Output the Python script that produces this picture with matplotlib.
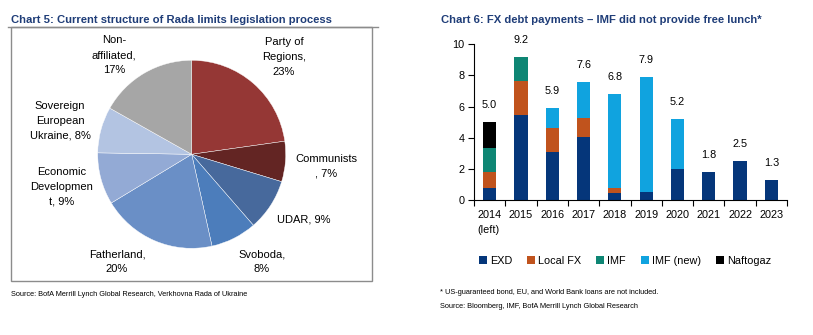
import matplotlib
matplotlib.use("Agg")
import matplotlib.pyplot as plt
from matplotlib.patches import Rectangle, Patch
from matplotlib.lines import Line2D
import numpy as np

plt.rcParams['font.family'] = ['Liberation Sans', 'DejaVu Sans']

# ---------- Data: Chart 5 (pie) ----------
party_labels = ["Party of\nRegions,\n{}%", "Communists\n, {}%", "UDAR, {}%", "Svoboda,\n{}%",
                "Fatherland,\n{}%", "Economic\nDevelopmen\nt, {}%", "Sovereign\nEuropean\nUkraine, {}%",
                "Non-\naffiliated,\n{}%"]
shares = [23, 7, 9, 8, 20, 9, 8, 17]
pie_colors = ["#953735", "#632523", "#47699c", "#4c7dbb", "#6a8fc6", "#93aad5", "#b3c4e2", "#a6a6a6"]

# ---------- Data: Chart 6 (stacked bars) ----------
years = ["2014\n(left)", "2015", "2016", "2017", "2018", "2019", "2020", "2021", "2022", "2023"]
exd = [0.75, 5.45, 3.1, 4.05, 0.48, 0.5, 2.0, 1.82, 2.52, 1.28]
local_fx = [1.03, 2.2, 1.55, 1.23, 0.27, 0.0, 0.0, 0.0, 0.0, 0.0]
imf = [1.56, 1.55, 0.0, 0.0, 0.0, 0.0, 0.0, 0.0, 0.0, 0.0]
imf_new = [0.0, 0.0, 1.25, 2.32, 6.05, 7.4, 3.2, 0.0, 0.0, 0.0]
naftogaz = [1.66, 0.0, 0.0, 0.0, 0.0, 0.0, 0.0, 0.0, 0.0, 0.0]
totals_label = ["5.0", "9.2", "5.9", "7.6", "6.8", "7.9", "5.2", "1.8", "2.5", "1.3"]

series_names = ["EXD", "Local FX", "IMF", "IMF (new)", "Naftogaz"]
series_colors = ["#05367a", "#c0531d", "#0e8674", "#10a3df", "#000000"]

W, H = 813, 335
fig = plt.figure(figsize=(W / 100, H / 100), dpi=100)

def fx(px):
    return px / W

def fy(py):
    return 1 - py / H

title_color = "#1f3d78"

# ---------- Left panel ----------
fig.text(fx(11), fy(20), "Chart 5: Current structure of Rada limits legislation process",
         fontsize=8.1, fontweight='bold', color=title_color, va='center', ha='left')
fig.add_artist(Line2D([fx(8), fx(378)], [fy(27), fy(27)], color="#8c8c8c", lw=1.0))
fig.add_artist(Rectangle((fx(11), fy(281)), fx(372) - fx(11), fy(27) - fy(281),
                         fill=False, edgecolor="#8c8c8c", lw=1.0, transform=fig.transFigure))
fig.text(fx(11), fy(294), "Source: BofA Merrill Lynch Global Research, Verkhovna Rada of Ukraine",
         fontsize=5.3, color="#000000", va='center', ha='left')

cx, cy, r = 191.7, 154.3, 94
axp = fig.add_axes([fx(cx - r), fy(cy + r), 2 * r / W, 2 * r / H])
wedges, _ = axp.pie(shares, colors=pie_colors, startangle=90, counterclock=False, radius=1,
                    wedgeprops=dict(linewidth=0.3, edgecolor="white"))
axp.set_xlim(-1, 1)
axp.set_ylim(-1, 1)
axp.set_aspect('equal')
axp.axis('off')

label_pos = [(284, 57), (326, 166), (304, 219), (262, 262), (117, 262),
             (62, 187), (60, 121), (114, 55)]
for tmpl, s, (lx, ly) in zip(party_labels, shares, label_pos):
    fig.text(fx(lx), fy(ly), tmpl.format(s), fontsize=8.0, ha='center', va='center',
             linespacing=1.58, color="#000000")

# ---------- Right panel ----------
fig.text(fx(441), fy(20), "Chart 6: FX debt payments \u2013 IMF did not provide free lunch*",
         fontsize=8.1, fontweight='bold', color=title_color, va='center', ha='left')

axb = fig.add_axes([fx(474), fy(200), (787 - 474) / W, (200 - 44.3) / H])
x = np.arange(len(years))
bottom = np.zeros(len(years))
for vals, name, col in zip([exd, local_fx, imf, imf_new, naftogaz], series_names, series_colors):
    vals = np.array(vals)
    axb.bar(x, vals, width=0.42, bottom=bottom, color=col, label=name, linewidth=0)
    bottom += vals

for xi, tot, lab in zip(x, bottom, totals_label):
    axb.annotate(lab, (xi, tot), xytext=(0, 12), textcoords='offset points',
                 ha='center', va='center', fontsize=7.8)

axb.set_xlim(-0.5, len(years) - 0.5)
axb.set_ylim(0, 10)
axb.set_yticks([0, 2, 4, 6, 8, 10])
axb.set_xticks(x)
axb.set_xticklabels(years, fontsize=7.8, linespacing=1.7)
for lbl in axb.get_xticklabels():
    lbl.set_multialignment('left')
axb.set_xticks(np.arange(-0.5, len(years), 1), minor=True)
axb.tick_params(axis='x', which='major', length=0, pad=7)
axb.tick_params(axis='x', which='minor', length=4, direction='out', width=0.8)
axb.tick_params(axis='y', length=4, direction='out', width=0.8, labelsize=7.8, pad=3)
for side in ['top', 'right']:
    axb.spines[side].set_visible(False)
for side in ['left', 'bottom']:
    axb.spines[side].set_linewidth(0.8)

handles = [Patch(facecolor=c, edgecolor='none') for c in series_colors]
fig.legend(handles, series_names, loc='center', bbox_to_anchor=(fx(625), fy(261)),
           ncol=5, frameon=False, fontsize=7.8, handlelength=0.7, handleheight=0.7,
           handletextpad=0.3, columnspacing=1.4)

fig.text(fx(440), fy(292), "* US-guaranteed bond, EU, and World Bank loans are not included.",
         fontsize=5.3, va='center', ha='left')
fig.text(fx(440), fy(306), "Source: Bloomberg, IMF, BofA Merrill Lynch Global Research",
         fontsize=5.3, va='center', ha='left')

fig.savefig("out.png", dpi=100)
